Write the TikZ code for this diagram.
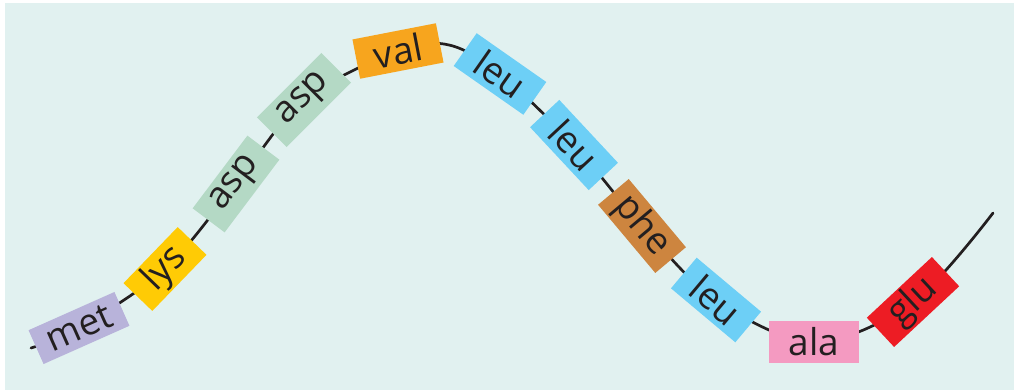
\documentclass[tikz,border=0pt]{standalone}
\usepackage{fontspec}
\setmainfont{Open Sans}
\usetikzlibrary{backgrounds}
\definecolor{bgteal}{HTML}{E1F1F0}
\definecolor{cmet}{HTML}{B8B3DA}
\definecolor{clys}{HTML}{FFCB05}
\definecolor{casp}{HTML}{B4D9C5}
\definecolor{cval}{HTML}{F7A51E}
\definecolor{cleu}{HTML}{6DCFF6}
\definecolor{cphe}{HTML}{CD853F}
\definecolor{cala}{HTML}{F49AC1}
\definecolor{cglu}{HTML}{ED1C24}
\definecolor{ink}{HTML}{231F20}
\tikzset{
  amino/.style={draw=none, inner sep=0pt, minimum height=40pt, text=ink,
    font=\fontsize{37}{40}\selectfont},
  chain/.style={line width=2.7pt, draw=ink, line cap=round}
}
\begin{document}
\begin{tikzpicture}[x=1pt,y=-1pt]
\useasboundingbox (0,0) rectangle (1014,390);
\node[amino, fill=cmet, minimum width=94pt, minimum height=37pt, rotate=24] (met) at (79,328) {met};
\node[amino, fill=clys, minimum width=78pt, rotate=46] (lys) at (165,269) {lys};
\node[amino, fill=casp, minimum width=91pt, rotate=53] (asp1) at (236,184) {asp};
\node[amino, fill=casp, minimum width=91pt, minimum height=42pt, rotate=45] (asp2) at (304,100) {asp};
\node[amino, fill=cval, minimum width=85pt, rotate=11] (val) at (398,51) {val};
\node[amino, fill=cleu, minimum width=85pt, rotate=-35] (leu1) at (500,74) {leu};
\node[amino, fill=cleu, minimum width=86pt, rotate=-47] (leu2) at (574,145) {leu};
\node[amino, fill=cphe, minimum width=89pt, rotate=-50] (phe) at (642,226) {phe};
\node[amino, fill=cleu, minimum width=84pt, rotate=-40] (leu3) at (716,300) {leu};
\node[amino, fill=cala, minimum width=90pt, minimum height=42pt] (ala) at (814,342) {ala};
\node[amino, fill=cglu, minimum width=89pt, rotate=43] (glu) at (913,302) {glu};
\coordinate (start) at (31,348);
\coordinate (peak) at (449,45);
\coordinate (end) at (993,213);
\begin{pgfonlayer}{background}
\fill[white] (0,0) rectangle (1014,390);
\fill[bgteal] (5,3) rectangle (1014,390);
\draw[chain] plot[smooth, tension=0.55] coordinates {(start) (met.center) (lys.center) (asp1.center) (asp2.center) (val.center) (peak) (leu1.center) (leu2.center) (phe.center) (leu3.center) (ala.center) (glu.center) (end)};
\end{pgfonlayer}
\end{tikzpicture}
\end{document}
